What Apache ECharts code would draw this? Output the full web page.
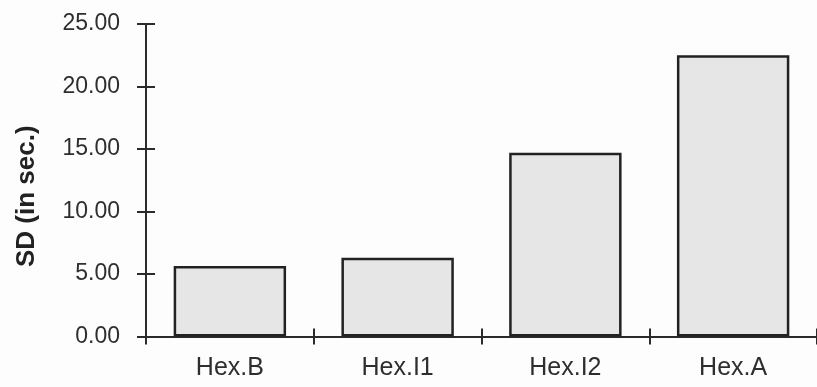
<!DOCTYPE html>
<html>
<head>
<meta charset="utf-8">
<script src="https://cdn.jsdelivr.net/npm/echarts@6/dist/echarts.min.js"></script>
<style>
html,body{margin:0;padding:0;background:#fdfdfd;}
#c{width:817px;height:387px;}
</style>
</head>
<body>
<div id="c"></div>
<script>
var categories = ['Hex.B', 'Hex.I1', 'Hex.I2', 'Hex.A'];
var sdValues = [5.65, 6.3, 14.7, 22.5];
var yTicks = [0, 5, 10, 15, 20, 25];
var yAxisTitle = 'SD (in sec.)';

var chart = echarts.init(document.getElementById('c'), null, {renderer: 'canvas'});
var axisColor = '#2b2b2b';
var font = 'Liberation Sans, Arial, Helvetica, sans-serif';
chart.setOption({
  backgroundColor: '#fdfdfd',
  animation: false,
  grid: {left: 146, right: -1, top: 24, bottom: 50.5, containLabel: false},
  xAxis: [{
    type: 'category',
    data: categories,
    boundaryGap: true,
    axisLine: {show: true, lineStyle: {color: axisColor, width: 2}},
    axisTick: {show: true, inside: false, length: 8, alignWithLabel: false, lineStyle: {color: axisColor, width: 2}},
    axisLabel: {color: '#2e2e2e', fontSize: 25, fontFamily: font, margin: 19},
    splitLine: {show: false}
  }, {
    type: 'category',
    data: categories,
    position: 'bottom',
    boundaryGap: true,
    axisLine: {show: false},
    axisTick: {show: true, inside: true, length: 8, lineStyle: {color: axisColor, width: 2}},
    axisLabel: {show: false},
    splitLine: {show: false}
  }],
  yAxis: [{
    type: 'value',
    min: yTicks[0],
    max: yTicks[yTicks.length - 1],
    interval: 5,
    axisLine: {show: true, lineStyle: {color: axisColor, width: 2}},
    axisTick: {show: true, inside: false, length: 9, lineStyle: {color: axisColor, width: 2}},
    axisLabel: {color: '#2e2e2e', fontSize: 23, fontFamily: font, margin: 26,
      formatter: function (v) { return v.toFixed(2); }},
    splitLine: {show: false},
    name: yAxisTitle,
    nameLocation: 'middle',
    nameRotate: 90,
    nameGap: 106,
    nameTextStyle: {color: '#222', fontSize: 26, fontWeight: 'bold', fontFamily: font, padding: [0, 32, 0, 0]}
  }, {
    type: 'value',
    position: 'left',
    min: yTicks[0],
    max: yTicks[yTicks.length - 1],
    interval: 5,
    axisLine: {show: false},
    axisTick: {show: true, inside: true, length: 9, lineStyle: {color: axisColor, width: 2}},
    axisLabel: {show: false},
    splitLine: {show: false}
  }],
  series: [{
    type: 'bar',
    data: sdValues,
    barCategoryGap: '33%',
    itemStyle: {color: '#e6e6e6', borderColor: '#222', borderWidth: 2.5}
  }]
});
</script>
</body>
</html>
